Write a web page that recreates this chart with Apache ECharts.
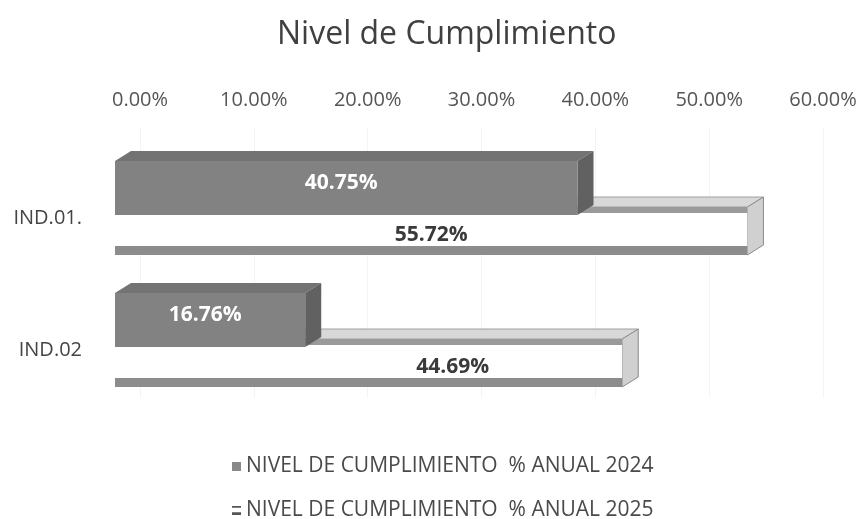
<!DOCTYPE html>
<html>
<head>
<meta charset="utf-8">
<script src="https://cdn.jsdelivr.net/npm/echarts@6/dist/echarts.min.js"></script>
<style>
  html, body { margin: 0; padding: 0; background: #fff; }
  #chart { width: 860px; height: 519px; }
</style>
</head>
<body>
<div id="chart"></div>
<script>
const categories = ['IND.01.', 'IND.02'];
const values2024 = [40.75, 16.76];
const values2025 = [55.72, 44.69];
const name2024 = 'NIVEL DE CUMPLIMIENTO  % ANUAL 2024';
const name2025 = 'NIVEL DE CUMPLIMIENTO  % ANUAL 2025';

const FONT = '"Open Sans", "Noto Sans", sans-serif';
const DX = 16, DY = -10; // 3d depth offset
const labelShift2025 = [0, 84]; // excel put the second label off-centre

function pct(v) {
  return v.toFixed(2) + '%';
}

function render2024(params, api) {
  const end = api.coord([api.value(0), api.value(1)]);
  const start = api.coord([0, api.value(1)]);
  const c = end[1], x0 = start[0], x1 = end[0];
  const top = c - 57, bot = c - 3;
  return {
    type: 'group',
    children: [
      { type: 'polygon', shape: { points: [[x0, top], [x0 + DX, top + DY], [x1 + DX, top + DY], [x1, top]] },
        style: { fill: '#737373' } },
      { type: 'polygon', shape: { points: [[x1, top], [x1 + DX, top + DY], [x1 + DX, bot + DY], [x1, bot]] },
        style: { fill: '#616161' } },
      { type: 'rect', shape: { x: x0, y: top, width: x1 - x0, height: bot - top },
        style: { fill: '#828282' } },
      { type: 'text', style: { text: pct(api.value(0)), x: (x0 + x1) / 2 - 5, y: top + 22,
        align: 'center', verticalAlign: 'middle', fill: '#ffffff', fontSize: 21, fontWeight: 'bold', fontFamily: FONT } }
    ]
  };
}

function render2025(params, api) {
  const end = api.coord([api.value(0), api.value(1)]);
  const start = api.coord([0, api.value(1)]);
  const c = end[1], x0 = start[0], x1 = end[0];
  const top = c - 11, bot = c + 37;
  return {
    type: 'group',
    children: [
      { type: 'polygon', shape: { points: [[x0, top], [x0 + DX, top + DY], [x1 + DX, top + DY], [x1, top]] },
        style: { fill: '#d8d8d8', stroke: '#a0a0a0', lineWidth: 1 } },
      { type: 'polygon', shape: { points: [[x1, top], [x1 + DX, top + DY], [x1 + DX, bot + DY], [x1, bot]] },
        style: { fill: '#d0d0d0', stroke: '#8a8a8a', lineWidth: 1 } },
      { type: 'rect', shape: { x: x0, y: top, width: x1 - x0, height: bot - top },
        style: { fill: '#ffffff' } },
      { type: 'rect', shape: { x: x0, y: top, width: x1 - x0, height: 6 },
        style: { fill: '#9a9a9a' } },
      { type: 'rect', shape: { x: x0, y: bot - 9, width: x1 - x0, height: 9 },
        style: { fill: '#8c8c8c' } },
      { type: 'text', style: { text: pct(api.value(0)), x: (x0 + x1) / 2 + labelShift2025[params.dataIndex], y: c + 17,
        align: 'center', verticalAlign: 'middle', fill: '#3a3a3a', fontSize: 21, fontWeight: 'bold', fontFamily: FONT } }
    ]
  };
}

const chart = echarts.init(document.getElementById('chart'));
chart.setOption({
  animation: false,
  title: {
    text: 'Nivel de Cumplimiento',
    left: 272,
    top: 14,
    textStyle: { fontFamily: FONT, fontSize: 32, fontWeight: 'normal', color: '#404040' }
  },
  legend: {
    orient: 'vertical',
    left: 232,
    top: 456,
    height: 100,
    padding: 0,
    itemGap: 23,
    itemWidth: 9,
    itemHeight: 9,
    textStyle: { fontFamily: FONT, fontSize: 21, color: '#4a4a4a' },
    data: [
      { name: name2024, icon: 'rect', itemStyle: { color: '#888888' } },
      { name: name2025, icon: 'path://M0,0H10V2H0Z M0,7H10V10H0Z', itemStyle: { color: '#555555' } }
    ]
  },
  grid: [
    { left: 115, width: 681, top: 152, height: 264 },
    { left: 140, width: 683, top: 128, height: 270 }
  ],
  xAxis: [
    { gridIndex: 0, type: 'value', min: 0, max: 60, interval: 10, show: false },
    {
      gridIndex: 1, type: 'value', position: 'top', min: 0, max: 60, interval: 10,
      axisLine: { show: false }, axisTick: { show: false },
      splitLine: { show: true, lineStyle: { color: '#f4f4f4' } },
      axisLabel: { margin: 18, formatter: pct, fontFamily: FONT, fontSize: 20, color: '#555' }
    }
  ],
  yAxis: [
    {
      gridIndex: 0, type: 'category', data: categories, inverse: true,
      axisLine: { show: false }, axisTick: { show: false },
      axisLabel: { margin: 33, fontFamily: FONT, fontSize: 20, color: '#444' }
    },
    { gridIndex: 1, type: 'value', show: false }
  ],
  series: [
    {
      name: name2025, type: 'custom', xAxisIndex: 0, yAxisIndex: 0,
      itemStyle: { color: '#8c8c8c' },
      encode: { x: 0, y: 1 },
      data: values2025.map((v, i) => [v, i]),
      renderItem: render2025
    },
    {
      name: name2024, type: 'custom', xAxisIndex: 0, yAxisIndex: 0,
      itemStyle: { color: '#888888' },
      encode: { x: 0, y: 1 },
      data: values2024.map((v, i) => [v, i]),
      renderItem: render2024
    }
  ]
});
</script>
</body>
</html>
